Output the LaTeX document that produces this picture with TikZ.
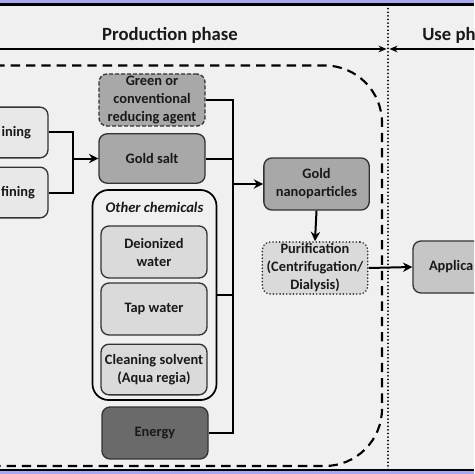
\documentclass[tikz,border=0pt]{standalone}
\usepackage{fontspec}
\setmainfont{Carlito}
\usetikzlibrary{arrows.meta}
\definecolor{bgc}{HTML}{F0F0F0}
\definecolor{lav}{HTML}{A8A8F0}
\definecolor{pale}{HTML}{E8E8E8}
\definecolor{med}{HTML}{A8A8A8}
\definecolor{lite}{HTML}{DADADA}
\definecolor{appc}{HTML}{C6C6C6}
\definecolor{dark}{HTML}{6A6A6A}
\definecolor{edge}{HTML}{333333}
\tikzset{
  box/.style={rounded corners=6pt, draw=edge, line width=1pt, align=center,
    font=\bfseries\fontsize{10.8}{13.5}\selectfont, inner sep=0pt, text=black!90},
  conn/.style={line width=1.5pt, draw=black},
  arr/.style={line width=1.5pt, draw=black, -{Stealth[length=7pt,width=7pt]}},
  phasearr/.style={line width=1.5pt, draw=black, -{Stealth[length=6pt,width=5pt]}},
  heading/.style={font=\bfseries\fontsize{14}{16}\selectfont, text=black!90}
}
\begin{document}
\begin{tikzpicture}[x=0.75pt,y=-0.75pt]
\useasboundingbox (0,0) rectangle (474,474);
\clip (0,0) rectangle (474,474);
% background
\fill[bgc] (0,0) rectangle (474,474);
\fill[lav] (0,0) rectangle (474,3);
\fill[lav] (0,471) rectangle (474,474);
\draw[line width=1.6pt] (0,4.5) -- (474,4.5);
\draw[line width=1.6pt] (0,470) -- (474,470);
% phase headings
\node[heading] (prod) at (170,35) {Production phase};
\node[heading, anchor=west, inner xsep=0pt] (use) at (422,35) {Use ph};
\coordinate (pl) at (-5,49);
\coordinate (pr) at (386.5,49);
\coordinate (ul) at (389.5,49);
\coordinate (ur) at (480,49);
\draw[phasearr] (pl) -- (pr);
\draw[phasearr] (ur) -- (ul);
% dotted divider
\coordinate (dt) at (388,5);
\coordinate (db) at (388,470);
\draw[line width=1.3pt, line cap=round, dash pattern=on 0.1pt off 2.6pt] (dt) -- (db);
% dashed system boundary
\draw[line width=1.6pt, dash pattern=on 7pt off 4.5pt, rounded corners=43pt]
  (-20,65.5) -- (382,65.5) -- (382,466) -- (-20,466);
% left boxes (cut by the left edge)
\node[box, fill=pale, minimum width=57pt, minimum height=38pt, text width=31.5pt, inner xsep=12.75pt, align=right] (mine) at (10,132.5) {ining};
\node[box, fill=pale, minimum width=57pt, minimum height=38pt, text width=37.5pt, inner xsep=9.75pt, align=right] (refi) at (10,192.5) {fining};
% inputs
\node[box, fill=med, dash pattern=on 3pt off 1.5pt, minimum width=79.5pt, minimum height=39pt] (red) at (152,100) {Green or\\conventional\\reducing agent};
\node[box, fill=med, minimum width=79.5pt, minimum height=37pt] (salt) at (152,158.5) {Gold salt};
\node[box, rounded corners=12pt, line width=1.3pt, draw=black, minimum width=93pt, minimum height=157.5pt] (other) at (154.5,295) {};
\node[font=\bfseries\itshape\fontsize{11}{12}\selectfont, text=black!90] (otherlbl) at (154.5,207) {Other chemicals};
\node[box, fill=lite, minimum width=79.5pt, minimum height=39pt] (diw) at (154,252) {Deionized\\water};
\node[box, fill=lite, minimum width=79.5pt, minimum height=39pt] (tap) at (154,309) {Tap water};
\node[box, fill=lite, minimum width=79.5pt, minimum height=38pt] (clean) at (154,369.5) {Cleaning solvent\\(Aqua regia)};
\node[box, fill=dark, minimum width=79.5pt, minimum height=39pt] (energy) at (155,433) {Energy};
% product chain
\node[box, fill=med, minimum width=79pt, minimum height=39pt] (np) at (316.5,184) {Gold\\nanoparticles};
\node[box, fill=lite, line width=1.3pt, dash pattern=on 0.1pt off 2.4pt, line cap=round, minimum width=79pt, minimum height=39pt] (pur) at (315,268) {Purification\\(Centrifugation/\\Dialysis)};
\node[box, fill=appc, minimum width=87pt, minimum height=39pt, text width=63pt, inner xsep=12pt, align=left] (app) at (471,267) {Applica};
% connectors
\coordinate (ja) at (73,158.5);
\draw[conn] (mine.east) -| (ja);
\draw[conn] (refi.east) -| (ja);
\draw[arr] (ja) -- (salt.west);
\coordinate (bus) at (233,0);
\draw[conn] (red.east) -- (red.east -| bus) -- (energy.east -| bus) -- (energy.east);
\draw[conn] (salt.east) -- (salt.east -| bus);
\draw[conn] (other.east) -- (other.east -| bus);
\draw[arr] (np.west -| bus) -- (np.west);
\draw[arr] (np.south) -- (pur.north);
\draw[arr] (pur.east) -- (app.west);
\end{tikzpicture}
\end{document}
